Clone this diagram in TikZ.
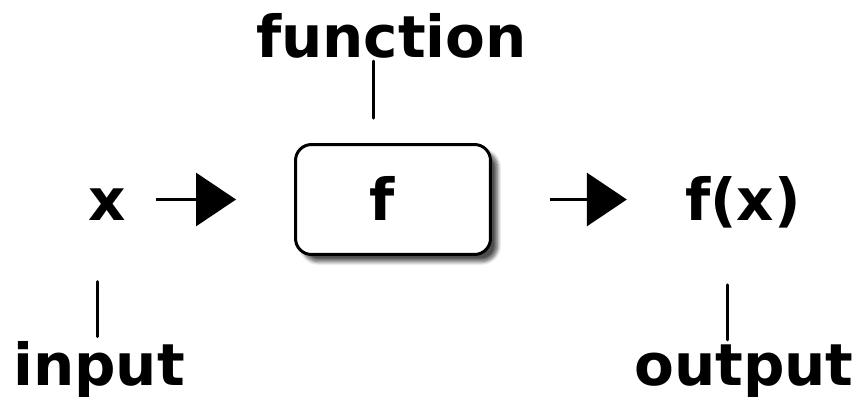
\documentclass[tikz,border=0pt]{standalone}
\usepackage{fontspec}
\setmainfont{DejaVu Sans}
\usepackage{tikz}
\usetikzlibrary{calc,arrows.meta,shadows.blur}
\tikzset{%
  lbl/.style={inner sep=0,anchor=base,font=\bfseries\fontsize{33}{40}\selectfont},
  fbox/.style={draw,line width=0.06cm,rounded corners=0.32cm,fill=white,minimum width=3.9cm,minimum height=2.2cm,
    blur shadow={shadow xshift=0.14cm,shadow yshift=-0.14cm,shadow blur steps=8,shadow opacity=70}},
  flow/.style={draw,line width=0.06cm,-{Triangle[length=0.8cm,width=1.06cm]}},
  lead/.style={draw,line width=0.06cm,line cap=round}
}
\begin{document}
\begin{tikzpicture}[x=0.02cm,y=-0.02cm]
    \useasboundingbox (0,0) rectangle (862,396);
    \node (f) at (393,199.5) [fbox]{};
    \path
      (107,220.5) node (x)[lbl]{x}
      (382,220.5) node (ftext)[lbl]{f}
      (743,220.5) node (fx)[lbl]{f(x)}
      (391.5,57) node (function)[lbl]{function}
      (99,385) node (input)[lbl]{input}
      (744,385) node (output)[lbl]{output};
    \draw[flow,shorten <=0.6cm,shorten >=1.16cm] (x.east |- f.west) -- (f.west);
    \draw[flow,shorten <=1.17cm,shorten >=1.16cm] (f.east) -- (fx.west |- f.east);
    \draw[lead] ($(function.south)+(-18.5,3)$) -- ++(0,57);
    \draw[lead] ($(input.north)+(-2,-4)$) -- ++(0,-55);
    \draw[lead] ($(output.north)+(-17,-4)$) -- ++(0,-55);
  \end{tikzpicture}
\end{document}
